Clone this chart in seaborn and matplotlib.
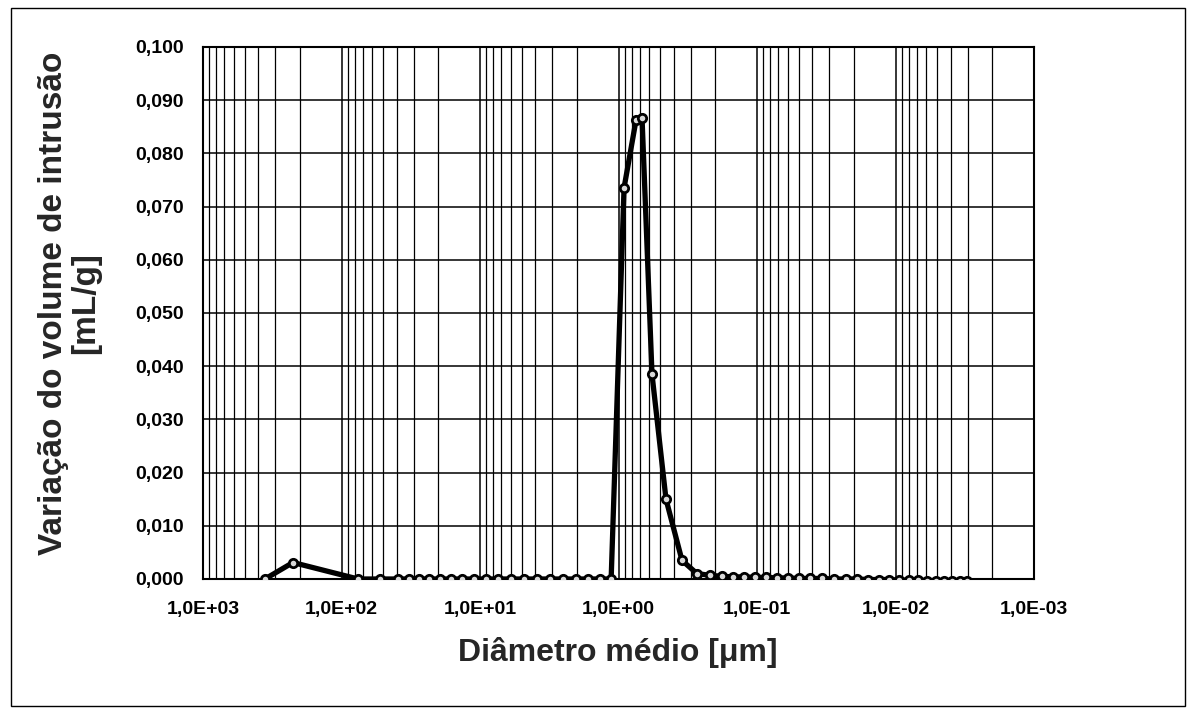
import numpy as np
import pandas as pd
import matplotlib
matplotlib.use("Agg")
import matplotlib.pyplot as plt
from matplotlib.patches import Rectangle
from matplotlib.ticker import LogLocator, NullFormatter
import seaborn as sns

# ---- data (diameter in µm, intrusion volume variation in mL/g) ----
diametro = [357, 224, 76.0, 52.7, 39.1, 32.6, 27.6, 23.4, 19.4, 16.2, 13.5, 11.0,
            9.05, 7.41, 5.97, 4.81, 3.88, 3.12, 2.52, 2.03, 1.66, 1.36, 1.13,
            0.912, 0.748, 0.676, 0.573, 0.454, 0.348, 0.271, 0.218,
            0.179, 0.149, 0.124, 0.103, 0.0861, 0.0718, 0.0597, 0.0498, 0.0414,
            0.0340, 0.0278, 0.0228, 0.0190, 0.0158, 0.0132, 0.0111, 0.00944,
            0.00800, 0.00689, 0.00593, 0.00511, 0.00447, 0.00391, 0.00342, 0.00305]
volume = [0.0000, 0.0031, 0.0000, 0.0000, 0.0000, 0.0000, 0.0000, 0.0000, 0.0000,
          0.0000, 0.0000, 0.0000, 0.0000, 0.0000, 0.0000, 0.0000, 0.0000, 0.0000,
          0.0000, 0.0000, 0.0000, 0.0000, 0.0000,
          0.0735, 0.0862, 0.0866, 0.0385, 0.0150, 0.0035, 0.0010, 0.0007,
          0.0005, 0.0004, 0.0004, 0.0003, 0.0003, 0.0002, 0.0002, 0.0001, 0.0001,
          0.0001, 0.0000, 0.0000, 0.0000, -0.0001, -0.0001, -0.0001, -0.0002,
          -0.0002, -0.0002, -0.0003, -0.0003, -0.0003, -0.0003, -0.0003, -0.0003]

x_ticks = [1e3, 1e2, 1e1, 1e0, 1e-1, 1e-2, 1e-3]
x_tick_labels = ["1,0E+03", "1,0E+02", "1,0E+01", "1,0E+00", "1,0E-01", "1,0E-02", "1,0E-03"]
y_ticks = [0.00, 0.01, 0.02, 0.03, 0.04, 0.05, 0.06, 0.07, 0.08, 0.09, 0.10]
y_tick_labels = ["0,000", "0,010", "0,020", "0,030", "0,040", "0,050",
                 "0,060", "0,070", "0,080", "0,090", "0,100"]

x_title = "Diâmetro médio [μm]"
y_title = "Variação do volume de intrusão\n[mL/g]"

sns.set_style("white")
plt.rcParams["font.family"] = ["Liberation Sans", "DejaVu Sans"]

W, H = 1193, 714
fig = plt.figure(figsize=(W / 100, H / 100), dpi=100)
ax = fig.add_axes([203 / W, 1 - 579 / H, (1034 - 203) / W, (579 - 47) / H])

df = pd.DataFrame({"d": diametro, "v": volume})
sns.lineplot(data=df, x="d", y="v", sort=False, ax=ax, color="black",
             linewidth=3.8, marker="o", markersize=6, markerfacecolor="#d8d8d8",
             markeredgecolor="black", markeredgewidth=2.0, zorder=5)

ax.set_xscale("log")
ax.set_xlim(1e3, 1e-3)
ax.set_ylim(0, 0.1)

ax.set_xticks(x_ticks, labels=x_tick_labels)
ax.xaxis.set_minor_locator(LogLocator(base=10, subs=np.arange(2, 10), numticks=100))
ax.xaxis.set_minor_formatter(NullFormatter())
ax.set_yticks(y_ticks, labels=y_tick_labels)

ax.grid(True, which="major", axis="both", color="black", linewidth=1.1)
ax.grid(True, which="minor", axis="x", color="black", linewidth=0.9)
ax.set_axisbelow(True)

for s in ax.spines.values():
    s.set_color("black")
    s.set_linewidth(1.5)

ax.tick_params(axis="both", which="major", length=0, labelsize=14, colors="black")
ax.tick_params(axis="x", which="major", pad=16)
ax.tick_params(axis="y", which="major", pad=14)
ax.tick_params(axis="x", which="minor", length=0)
for lab in ax.get_xticklabels() + ax.get_yticklabels():
    lab.set_fontweight("bold")

ax.set_xlabel("")
ax.set_ylabel("")
fig.text(618 / W, 1 - 652 / H, x_title, ha="center", va="center",
         fontsize=23, fontweight="bold")
fig.text(70 / W, 1 - 303 / H, y_title, ha="center", va="center", rotation=90,
         multialignment="center", fontsize=24, fontweight="bold", linespacing=1.05)

fig.patches.append(Rectangle((11 / W, 1 - 706 / H), (1185 - 11) / W, (706 - 8) / H,
                             transform=fig.transFigure, fill=False,
                             edgecolor="black", linewidth=1.0))

fig.savefig("out.png", dpi=100)
